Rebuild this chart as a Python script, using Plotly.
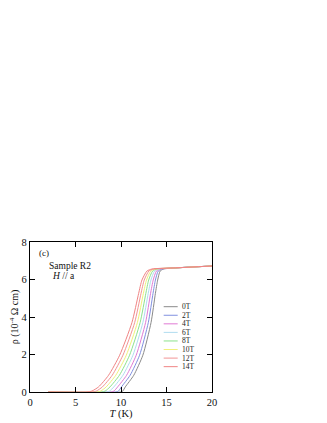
import plotly.graph_objects as go

# ---- data ----
fields = ["0T", "2T", "4T", "6T", "8T", "10T", "12T", "14T"]
colors = ["#8a8a8a", "#8090e0", "#e07ad4", "#b0dcf0", "#8ce28c", "#f0f07a", "#f29494", "#f08484"]

rho_levels = [0, 0, 0.05, 0.27, 0.89, 1.96, 3.70, 5.26, 5.97, 6.45, 6.56, 6.62, 6.72]

T_0T  = [2, 10.00, 10.20, 10.47, 11.40, 12.40, 13.30, 13.78, 14.03, 14.30, 14.70, 16, 20]
T_2T  = [2, 9.46, 9.72, 10.05, 11.00, 12.04, 13.00, 13.52, 13.78, 14.09, 14.51, 16, 20]
T_4T  = [2, 8.93, 9.23, 9.63, 10.61, 11.67, 12.70, 13.25, 13.54, 13.89, 14.33, 16, 20]
T_6T  = [2, 8.39, 8.75, 9.21, 10.21, 11.31, 12.40, 12.99, 13.29, 13.68, 14.14, 16, 20]
T_8T  = [2, 7.86, 8.26, 8.79, 9.82, 10.94, 12.10, 12.73, 13.04, 13.47, 13.96, 16, 20]
T_10T = [2, 7.32, 7.77, 8.37, 9.42, 10.58, 11.80, 12.46, 12.80, 13.27, 13.77, 16, 20]
T_12T = [2, 6.79, 7.29, 7.95, 9.03, 10.21, 11.50, 12.20, 12.55, 13.06, 13.59, 16, 20]
T_14T = [2, 6.25, 6.80, 7.53, 8.63, 9.85, 11.20, 11.94, 12.30, 12.85, 13.40, 16, 20]

T_series = [T_0T, T_2T, T_4T, T_6T, T_8T, T_10T, T_12T, T_14T]

x_ticks = [0, 5, 10, 15, 20]
y_ticks = [0, 2, 4, 6, 8]

FONT = "Liberation Serif, Times New Roman, serif"

fig = go.Figure()
for name, col, Ts in zip(fields, colors, T_series):
    fig.add_trace(go.Scatter(x=Ts, y=rho_levels, mode="lines", name=name,
                             line=dict(color=col, width=1, shape="spline", smoothing=0.6),
                             showlegend=False))

# manual compact legend
shapes = []
annotations = []
y0, dy = 4.55, 0.457
for i, (name, col) in enumerate(zip(fields, colors)):
    yy = y0 - i * dy
    shapes.append(dict(type="line", xref="x", yref="y", x0=14.69, x1=16.23, y0=yy, y1=yy,
                       line=dict(color=col, width=1)))
    annotations.append(dict(x=16.5, y=yy, xref="x", yref="y", text=name, showarrow=False,
                            xanchor="left", yanchor="middle",
                            font=dict(family=FONT, size=7.5, color="#222")))

annotations += [
    dict(x=0.04, y=0.93, xref="paper", yref="paper", text="(c)", showarrow=False,
         xanchor="left", yanchor="middle", font=dict(family=FONT, size=9, color="#111")),
    dict(x=0.095, y=0.84, xref="paper", yref="paper", text="Sample R2", showarrow=False,
         xanchor="left", yanchor="middle", font=dict(family=FONT, size=9.5, color="#111")),
    dict(x=0.11, y=0.775, xref="paper", yref="paper", text="<i>H</i> // a", showarrow=False,
         xanchor="left", yanchor="middle", font=dict(family=FONT, size=9.5, color="#111")),
]

axis_common = dict(showgrid=False, zeroline=False, showline=True, linecolor="black", linewidth=1.2,
                   mirror="ticks", ticks="inside", ticklen=5, tickwidth=1, tickcolor="black",
                   automargin=False,
                   tickfont=dict(family=FONT, size=10.5, color="#111"))

fig.update_layout(
    width=319, height=415,
    margin=dict(l=22, r=115, t=234, b=31),
    paper_bgcolor="white", plot_bgcolor="white",
    shapes=shapes, annotations=annotations,
    xaxis=dict(range=[0, 20], tickvals=x_ticks, ticktext=[str(v) for v in x_ticks],
               title=dict(text="<i>T</i> (K)", font=dict(family=FONT, size=10.5, color="#111"), standoff=1),
               **axis_common),
    yaxis=dict(range=[0, 8], tickvals=y_ticks, ticktext=[str(v) for v in y_ticks],
               title=dict(text="ρ (10<sup>-4</sup> Ω cm)", font=dict(family=FONT, size=10, color="#111"), standoff=3),
               **axis_common),
)

fig.write_html("out.html")
